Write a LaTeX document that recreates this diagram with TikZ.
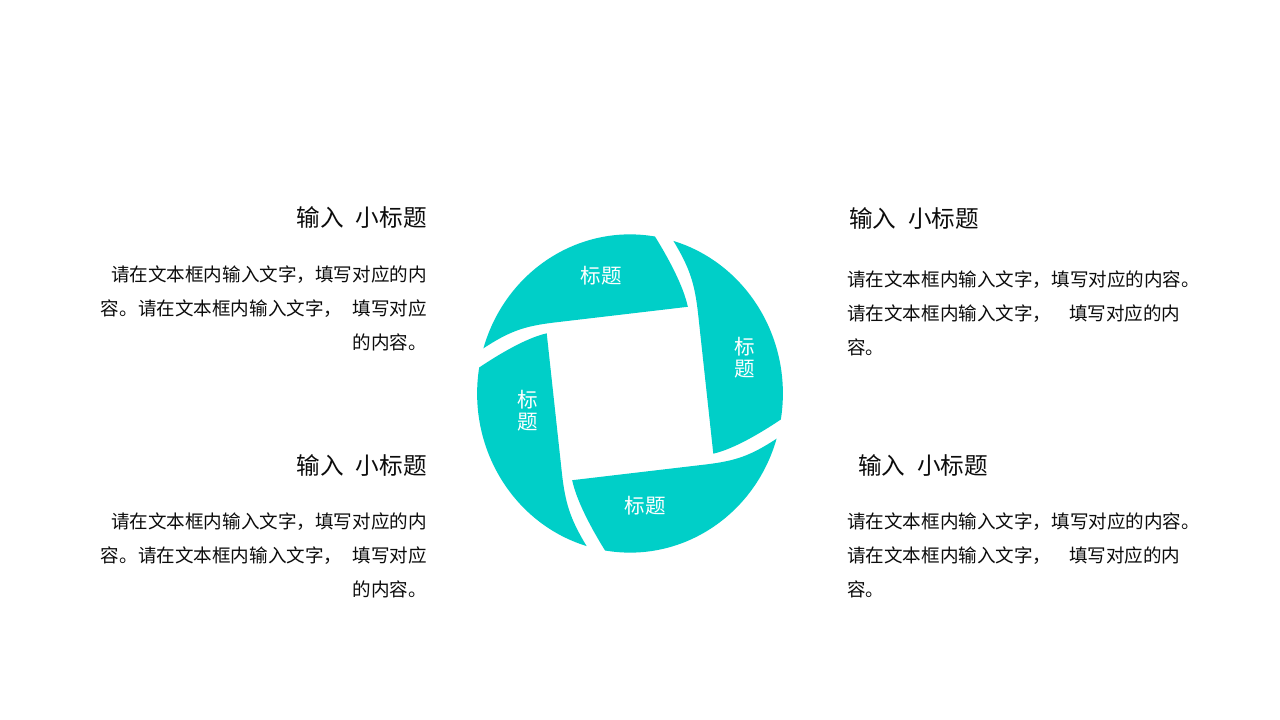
\documentclass[tikz,border=0pt]{standalone}
\usepackage{fontspec}
\setmainfont{Noto Sans CJK SC}
\definecolor{bladecol}{RGB}{0,207,200}
\definecolor{txt}{RGB}{12,12,12}
\begin{document}
\begin{tikzpicture}[x=0.025cm,y=0.025cm,
  blade/.style={fill=bladecol, draw=none},
  lbl/.style={text=white, font=\fontsize{14.6}{15.6}\selectfont, inner sep=0, align=center},
  head/.style={text=txt, font=\fontsize{16.8}{20}\selectfont, inner sep=0},
  body/.style={text=txt, font=\fontsize{13.2}{24.2}\selectfont, inner sep=0},
]
\useasboundingbox (0,0) rectangle (1280,-720);
\fill[white] (0,0) rectangle (1280,-720);
% four pinwheel blades
\foreach \r in {0,-90,-180,-270}{
  \fill[blade, shift={(630,-393.5)}, xscale=0.98, yscale=1.02, rotate=\r]
    (80.6:156) arc[start angle=80.6, end angle=163.5, radius=156]
    .. controls (-123,61) and (-108,66) .. (-78,69.5)
    -- (59,85)
    .. controls (54.5,105.5) and (39,133) .. (80.6:156) -- cycle;
}
% blade labels
\node[lbl] (t1) at (601,-276) {标题};
\node[lbl] (t2) at (745,-358) {标\\题};
\node[lbl] (t3) at (645,-506) {标题};
\node[lbl] (t4) at (528,-411) {标\\题};
% headings
\node[head, anchor=east] (h1) at (427,-218) {输入\hspace{0.5em}小标题};
\node[head, anchor=west] (h2) at (849,-219) {输入\hspace{0.5em}小标题};
\node[head, anchor=east] (h3) at (427,-465) {输入\hspace{0.5em}小标题};
\node[head, anchor=west] (h4) at (858,-465) {输入\hspace{0.5em}小标题};
% body texts
\node[body, anchor=north east, align=right] (b1) at (427,-265.5)
  {请在文本框内输入文字，填写对应的内\\容。请在文本框内输入文字，\hspace{0.55em}填写对应\\的内容。};
\node[body, anchor=north west, align=left] (b2) at (847,-270.5)
  {请在文本框内输入文字，填写对应的内容。\\请在文本框内输入文字，\hspace{0.95em}填写对应的内\\容。};
\node[body, anchor=north east, align=right] (b3) at (427,-512.5)
  {请在文本框内输入文字，填写对应的内\\容。请在文本框内输入文字，\hspace{0.55em}填写对应\\的内容。};
\node[body, anchor=north west, align=left] (b4) at (847,-512.5)
  {请在文本框内输入文字，填写对应的内容。\\请在文本框内输入文字，\hspace{0.95em}填写对应的内\\容。};
\end{tikzpicture}
\end{document}
